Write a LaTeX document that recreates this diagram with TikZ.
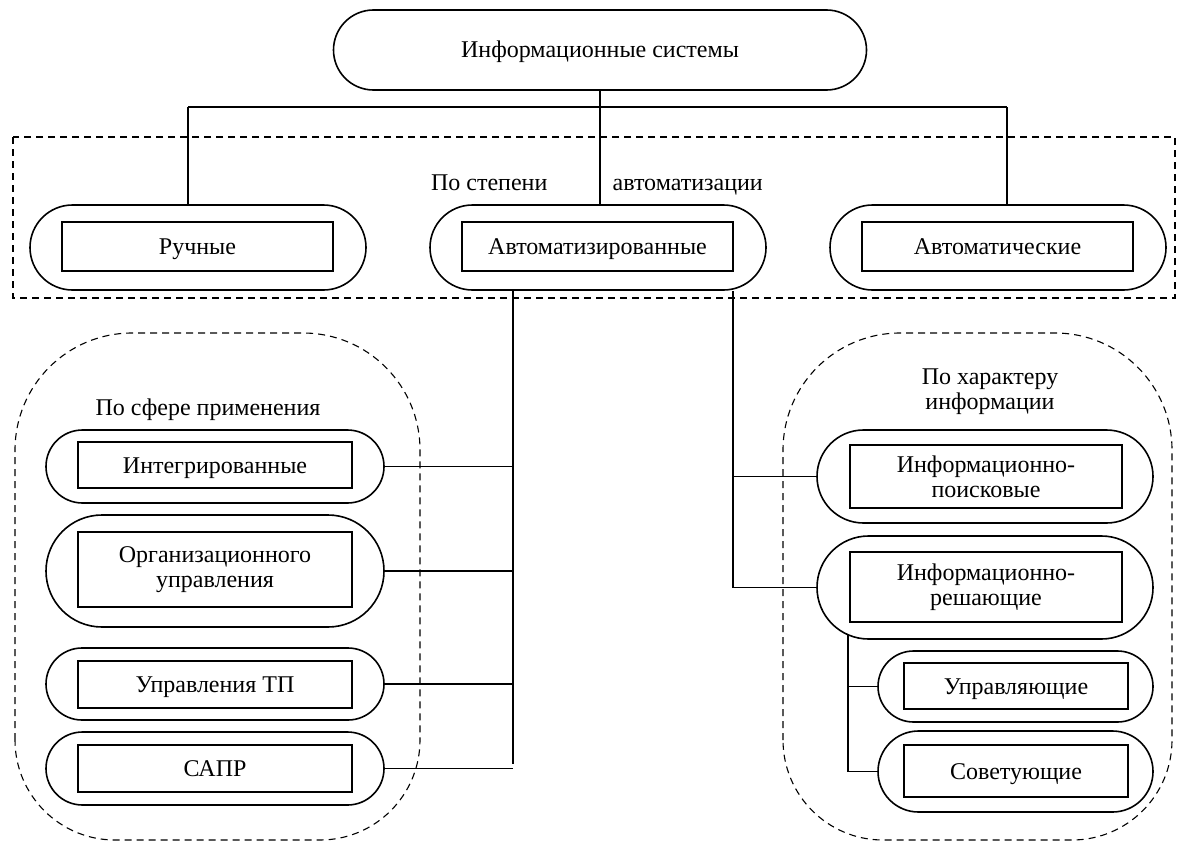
\documentclass[tikz,border=0pt]{standalone}
\usepackage{fontspec}
\setmainfont{Liberation Serif}
\usetikzlibrary{shapes.misc}
\begin{document}
\begin{tikzpicture}[x=1pt,y=-1pt,
  font=\fontsize{24}{25}\selectfont,
  line width=1.3pt,
  stad/.style 2 args={rounded rectangle, draw, line width=1.6pt, inner sep=0pt, minimum width=#1pt, minimum height=#2pt},
  inbox/.style 2 args={rectangle, draw, line width=1.6pt, inner sep=0pt, minimum width=#1pt, minimum height=#2pt, align=center},
  oneline/.style={text height=16pt, text depth=0pt},
  grp/.style={dash pattern=on 7pt off 5pt, line width=1.1pt},
  lbl/.style={inner sep=0pt, align=center}]
\useasboundingbox (0,0) rectangle (1182,843);

% top
\node[stad={533}{80}, oneline] (top) at (600,50) {Информационные системы};

% automation level group
\draw[grp] (13,137) rectangle (1175,298);
\node[lbl, anchor=base east] (st1) at (548,190) {По степени};
\node[lbl, anchor=base west] (st2) at (612,190) {автоматизации};

\node[stad={336}{85}] (ruch) at (198,247.5) {};
\node[inbox={271}{49}, oneline] (ruchT) at (197.5,246.5) {Ручные};
\node[stad={336}{85}] (auto) at (598,247.5) {};
\node[inbox={271}{49}, oneline] (autoT) at (597.5,246.5) {Автоматизированные};
\node[stad={336}{85}] (autom) at (998,247.5) {};
\node[inbox={271}{49}, oneline] (automT) at (997.5,246.5) {Автоматические};

\coordinate (hL) at (188,107);
\coordinate (hR) at (1007,107);
\draw (hL) -- (hR);
\draw (top.south) -- (top.south |- auto.north);
\draw (hL) -- (hL |- ruch.north);
\draw (hR) -- (hR |- autom.north);

% left group
\draw[grp] (15,740) -- (15,450) arc (180:270:117) -- (303,333) arc (270:360:117)
  -- (420,740) arc (0:90:100) -- (115,840) arc (90:180:100) -- cycle;
\node[lbl] (sfera) at (208,410) {По сфере применения};

\node[stad={338}{73}] (integ) at (215,466.5) {};
\node[inbox={274}{46}, oneline] (integT) at (215,465) {Интегрированные};
\node[stad={338}{112}] (org) at (215,571) {};
\node[inbox={274}{75}] (orgT) at (215,569.5) {Организационного\\управления};
\node[stad={338}{72}] (utp) at (215,684) {};
\node[inbox={274}{47}, oneline] (utpT) at (215,684.5) {Управления ТП};
\node[stad={338}{73}] (sapr) at (215,768.5) {};
\node[inbox={274}{47}, oneline] (saprT) at (215,768.5) {САПР};

\coordinate (bL) at (513,764);
\draw (auto.south -| bL) -- (bL);
\draw (integ.east) -- (integ.east -| bL);
\draw (org.east) -- (org.east -| bL);
\draw (utp.east) -- (utp.east -| bL);
\draw (sapr.east) -- (sapr.east -| bL);

% right group
\draw[grp] (783,740) -- (783,450) arc (180:270:117) -- (1055,333) arc (270:360:117)
  -- (1172,740) arc (0:90:100) -- (883,840) arc (90:180:100) -- cycle;
\node[lbl] (harakt) at (990,392) {По характеру\\информации};

\node[stad={336}{93}] (poisk) at (985,476.5) {};
\node[inbox={272}{63}] (poiskT) at (986,476.5) {Информационно-\\поисковые};
\node[stad={336}{103}] (resh) at (985,587.5) {};
\node[inbox={272}{70}] (reshT) at (986,587) {Информационно-\\решающие};
\node[stad={275}{71}] (upr) at (1015.5,686.5) {};
\node[inbox={224}{46}, oneline] (uprT) at (1016,686) {Управляющие};
\node[stad={275}{81}] (sov) at (1015.5,771.5) {};
\node[inbox={224}{52}, oneline] (sovT) at (1016,771) {Советующие};

\coordinate (bR) at (733,583);
\draw (auto.south -| bR) -- (resh.west -| bR);
\draw (poisk.west -| bR) -- (poisk.west);
\draw (resh.west -| bR) -- (resh.west);

\coordinate (bStop) at (848,635);
\draw (bStop) -- (bStop |- sov.west);
\draw (upr.west -| bStop) -- (upr.west);
\draw (sov.west -| bStop) -- (sov.west);
\end{tikzpicture}
\end{document}
